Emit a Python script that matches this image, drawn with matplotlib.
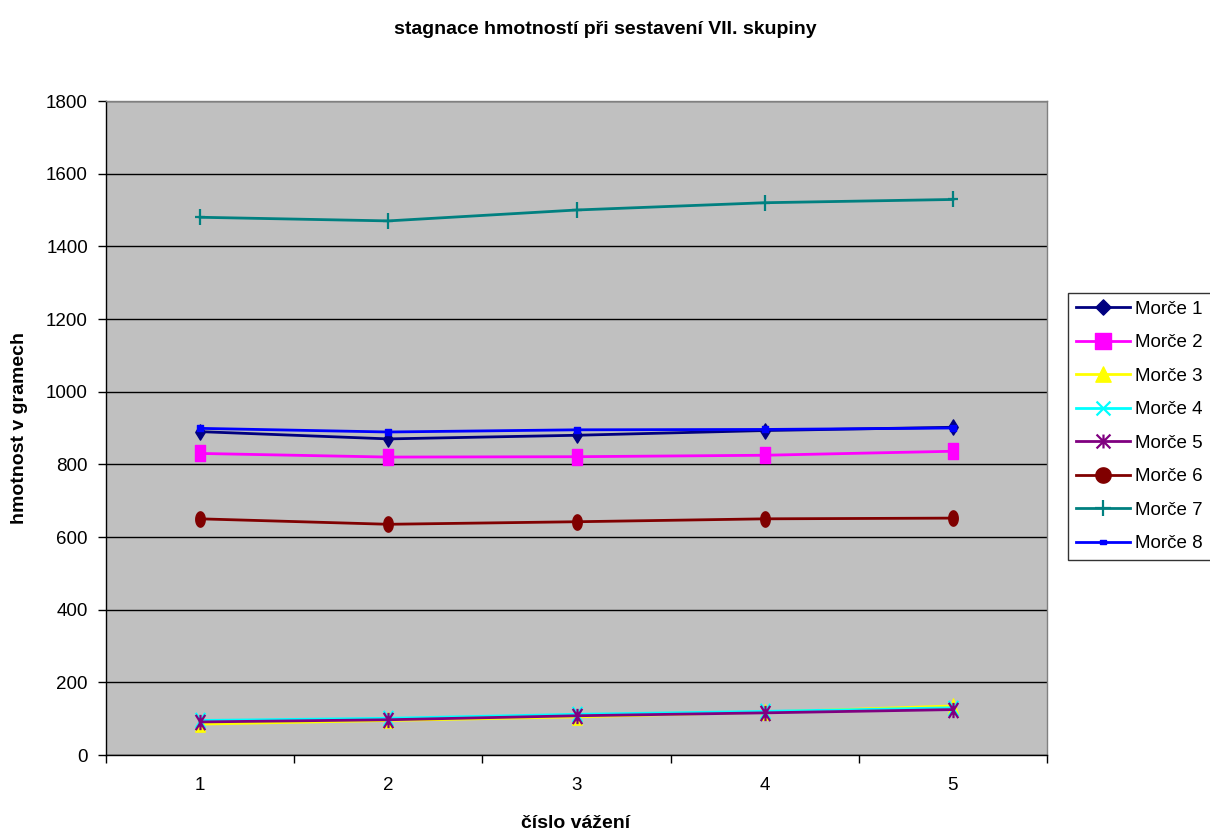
import matplotlib
matplotlib.use("Agg")
import numpy as np
import matplotlib.pyplot as plt
from matplotlib.path import Path
from matplotlib.lines import Line2D
from matplotlib.ticker import FixedLocator

plt.rcParams['font.family'] = ['Liberation Sans', 'DejaVu Sans']

vazeni = [1, 2, 3, 4, 5]
morce1 = [890, 870, 880, 893, 902]
morce2 = [830, 820, 821, 825, 836]
morce3 = [85, 95, 105, 118, 135]
morce4 = [95, 101, 112, 120, 130]
morce5 = [91, 97, 108, 116, 125]
morce6 = [650, 635, 642, 650, 652]
morce7 = [1480, 1470, 1500, 1520, 1529]
morce8 = [899, 889, 895, 896, 900]

labels = ["Morče 1", "Morče 2", "Morče 3", "Morče 4",
          "Morče 5", "Morče 6", "Morče 7", "Morče 8"]
series = [morce1, morce2, morce3, morce4, morce5, morce6, morce7, morce8]
colors = ["#000080", "#FF00FF", "#FFFF00", "#00FFFF",
          "#800080", "#800000", "#008080", "#0000FF"]


def marker_paths(w):
    """Marker outlines of half-width w and half-height 1."""
    M, L, C = Path.MOVETO, Path.LINETO, Path.CLOSEPOLY
    diamond = Path([(0, 1), (w, 0), (0, -1), (-w, 0), (0, 1)], [M, L, L, L, C])
    square = Path([(-w, -1), (w, -1), (w, 1), (-w, 1), (-w, -1)], [M, L, L, L, C])
    tri = Path([(0, 1), (w, -1), (-w, -1), (0, 1)], [M, L, L, C])
    cross = Path([(-w, -1), (w, 1), (-w, 1), (w, -1)], [M, L, M, L])
    star = Path([(-w, -1), (w, 1), (-w, 1), (w, -1), (0, -1), (0, 1)],
                [M, L, M, L, M, L])
    t = np.linspace(0, 2 * np.pi, 40)
    ell = Path(np.column_stack([w * np.cos(t), np.sin(t)]), closed=True)
    plus = Path([(-w, 0), (w, 0), (0, -1), (0, 1)], [M, L, M, L])
    small = Path([(-w, -0.7), (w, -0.7), (w, 0.7), (-w, 0.7), (-w, -0.7)],
                 [M, L, L, L, C])
    return [diamond, square, tri, cross, star, ell, plus, small]


filled = [True, True, True, False, False, True, False, True]
plot_ms = [11, 11, 11, 11, 11, 11, 11, 5]
leg_ms = [11, 11, 11, 10, 10, 11, 11, 5]

fig = plt.figure(figsize=(12.1, 8.32), dpi=100)
ax = fig.add_axes([106 / 1210, 1 - 755 / 832, (1047 - 106) / 1210, (755 - 101) / 832])
ax.set_facecolor("#C0C0C0")

for vals, col, mk, fl, ms in zip(series, colors, marker_paths(0.62), filled, plot_ms):
    ax.plot(vazeni, vals, color=col, lw=2, marker=mk, ms=ms,
            mfc=col if fl else "none", mec=col, mew=1 if fl else 1.6)

ax.set_xlim(0.5, 5.5)
ax.set_ylim(0, 1800)
ax.set_yticks(range(0, 1801, 200))
ax.yaxis.grid(True, color="black", lw=1)
ax.set_axisbelow(True)

ax.set_xticks(vazeni)
ax.xaxis.set_minor_locator(FixedLocator([0.5, 1.5, 2.5, 3.5, 4.5, 5.5]))
ax.tick_params(axis="x", which="major", length=0, pad=16, labelsize=13.5)
ax.tick_params(axis="x", which="minor", length=6, width=1, color="black")
ax.tick_params(axis="y", length=6, width=1, color="black", labelsize=13.5, pad=7)

for side in ["top", "right"]:
    ax.spines[side].set_color("#808080")
    ax.spines[side].set_linewidth(1)
for side in ["left", "bottom"]:
    ax.spines[side].set_color("black")
    ax.spines[side].set_linewidth(1)

fig.text(576 / 1210, 1 - 824 / 832, "číslo vážení", ha="center", va="center",
         fontsize=14, fontweight="bold")
fig.text(20 / 1210, 1 - 428 / 832, "hmotnost v gramech", ha="center", va="center",
         rotation=90, fontsize=14, fontweight="bold")
fig.text(0.5, 1 - 29 / 832, "stagnace hmotností při sestavení VII. skupiny",
         ha="center", va="center", fontsize=14, fontweight="bold")

# legend keys use undistorted marker shapes
handles = []
for col, mk, fl, ms in zip(colors, marker_paths(1.0), filled, leg_ms):
    handles.append(Line2D([], [], color=col, lw=2, marker=mk, ms=ms,
                          mfc=col if fl else "none", mec=col,
                          mew=1 if fl else 1.6))

leg = fig.legend(handles, labels, loc="upper left",
                 bbox_to_anchor=(1068 / 1210, 1 - 293 / 832),
                 fontsize=13.5, frameon=True, fancybox=False, edgecolor="black",
                 borderpad=0.42, labelspacing=0.87, handlelength=2.9,
                 handletextpad=0.27, borderaxespad=0)
leg.get_frame().set_linewidth(1)

fig.savefig("out.png", dpi=100, facecolor="white")
